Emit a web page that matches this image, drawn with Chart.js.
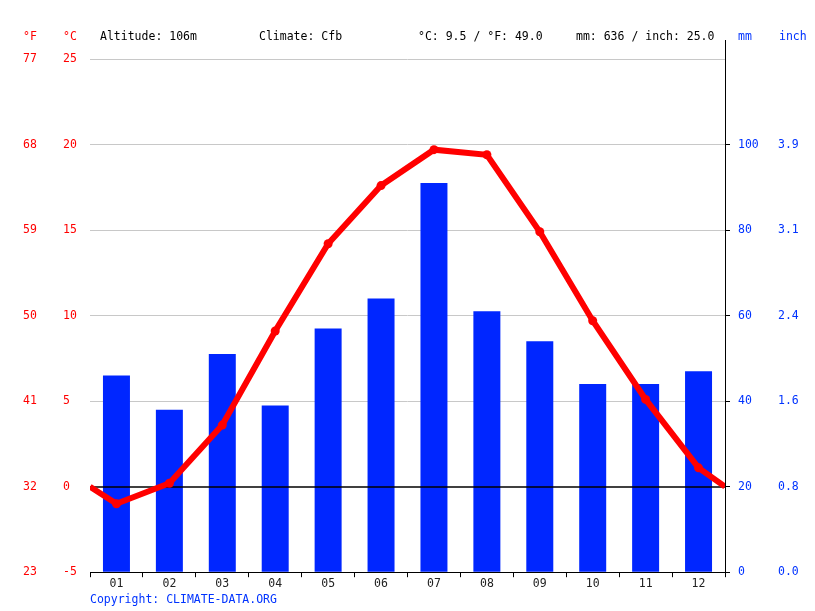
<!DOCTYPE html>
<html>
<head>
<meta charset="utf-8">
<script src="https://cdn.jsdelivr.net/npm/chart.js@4.4.1/dist/chart.umd.min.js"></script>
<style>
html,body{margin:0;padding:0;background:#fff;}
#c{display:block;}
</style>
</head>
<body>
<canvas id="c" width="815" height="611" style="width:815px;height:611px"></canvas>
<script>
// ---- data ----
const months = ['01','02','03','04','05','06','07','08','09','10','11','12'];
const precipMm = [46, 38, 51, 39, 57, 64, 91, 61, 54, 44, 44, 47];
const tempC = [-1.0, 0.2, 3.6, 9.1, 14.2, 17.6, 19.7, 19.4, 14.9, 9.7, 5.1, 1.1];
const tempEdgeC = [0.0, 0.0];           // line ends at left / right edge of the plot
const fLabels = ['23','32','41','50','59','68','77'];
const inchLabels = ['0.0','0.8','1.6','2.4','3.1','3.9'];
const headerTexts = ['Altitude: 106m', 'Climate: Cfb', '°C: 9.5 / °F: 49.0', 'mm: 636 / inch: 25.0'];
const copyrightText = 'Copyright: CLIMATE-DATA.ORG';

const FONT = 'DejaVu Sans Mono';
const FS = 11.5;
const RED = '#ff0000';
const BLUE = '#0033ff';
const BAR = '#0026ff';

const linePoints = [{x: -0.5, y: tempEdgeC[0]}]
  .concat(tempC.map((v, i) => ({x: i, y: v})))
  .concat([{x: months.length - 0.5, y: tempEdgeC[1]}]);

const extras = {
  id: 'extras',
  afterDatasetDraw(chart, args) {
    if (args.index !== 0) return;
    const ctx = chart.ctx, a = chart.chartArea;
    const y = Math.round(chart.scales.yC.getPixelForValue(0));
    ctx.save();
    ctx.strokeStyle = '#000';
    ctx.lineWidth = 1.5;
    ctx.beginPath();
    ctx.moveTo(a.left, y);
    ctx.lineTo(a.right, y);
    ctx.stroke();
    ctx.restore();
  },
  afterDraw(chart) {
    const ctx = chart.ctx, a = chart.chartArea, s = chart.scales;
    ctx.save();
    // right axis line extends above plot area
    const xr = Math.round(s.yMm.left) + 0.5;
    ctx.strokeStyle = '#000';
    ctx.lineWidth = 1;
    ctx.beginPath();
    ctx.moveTo(xr, a.top - 19);
    ctx.lineTo(xr, a.top);
    ctx.stroke();

    ctx.font = FS + 'px "' + FONT + '"';
    ctx.textBaseline = 'middle';
    ctx.textAlign = 'left';
    const ty = a.top - 22;
    ctx.fillStyle = RED;
    ctx.fillText('°F', s.yF.left, ty);
    ctx.fillText('°C', s.yC.left, ty);
    ctx.fillStyle = BLUE;
    ctx.fillText('mm', s.yMm.left + 13, ty);
    ctx.fillText('inch', s.yIn.left + 1, ty);
    ctx.fillStyle = '#000';
    const hx = [100, 259, 418, 576];
    headerTexts.forEach((t, i) => ctx.fillText(t, hx[i], ty));
    ctx.fillStyle = BLUE;
    ctx.fillText(copyrightText, a.left, a.bottom + 28);
    ctx.restore();
  }
};

new Chart(document.getElementById('c'), {
  data: {
    labels: months,
    datasets: [
      {
        type: 'bar',
        label: 'mm',
        data: precipMm,
        backgroundColor: BAR,
        borderWidth: 0,
        grouped: false,
        barPercentage: 0.51,
        categoryPercentage: 1.0,
        xAxisID: 'x',
        yAxisID: 'yMm',
        order: 1
      },
      {
        type: 'line',
        label: '°C',
        data: linePoints,
        borderColor: RED,
        backgroundColor: RED,
        borderWidth: 6,
        tension: 0,
        pointRadius: ctx => (ctx.dataIndex === 0 || ctx.dataIndex === linePoints.length - 1) ? 0 : 4.5,
        pointBackgroundColor: RED,
        pointBorderWidth: 0,
        xAxisID: 'xl',
        yAxisID: 'yC',
        order: 0
      }
    ]
  },
  options: {
    responsive: false,
    animation: false,
    events: [],
    layout: { padding: { left: 23, right: 0, top: 59, bottom: 20 } },
    plugins: { legend: { display: false }, tooltip: { enabled: false }, title: { display: false } },
    scales: {
      x: {
        type: 'category',
        position: 'bottom',
        offset: true,
        grid: { offset: true, drawOnChartArea: false, drawTicks: true, tickLength: 5, color: '#000' },
        border: { display: true, color: '#000', width: 1 },
        ticks: { color: '#222', font: { family: FONT, size: FS }, padding: 0, maxRotation: 0 }
      },
      xl: {
        type: 'linear',
        display: false,
        min: -0.5,
        max: months.length - 0.5
      },
      yF: {
        type: 'linear',
        position: 'left',
        weight: 2,
        min: -5, max: 25,
        afterBuildTicks: sc => { sc.ticks = [-5,0,5,10,15,20,25].map(v => ({value: v})); },
        ticks: { color: RED, crossAlign: 'far', font: { family: FONT, size: FS },
                 callback: (v, i) => fLabels[i] },
        grid: { display: false, drawTicks: false },
        border: { display: false },
        afterFit: sc => { sc.width = 40; }
      },
      yC: {
        type: 'linear',
        position: 'left',
        weight: 1,
        min: -5, max: 25,
        afterBuildTicks: sc => { sc.ticks = [-5,0,5,10,15,20,25].map(v => ({value: v})); },
        ticks: { color: RED, crossAlign: 'far', font: { family: FONT, size: FS },
                 callback: v => String(v) },
        grid: { drawTicks: false,
                color: c => (c.tick && (c.tick.value === 0 || c.tick.value === -5)) ? 'rgba(0,0,0,0)' : '#c8c8c8' },
        border: { display: false },
        afterFit: sc => { sc.width = 27; }
      },
      yMm: {
        type: 'linear',
        position: 'right',
        weight: 1,
        min: 0, max: 120,
        afterBuildTicks: sc => { sc.ticks = [0,20,40,60,80,100].map(v => ({value: v})); },
        ticks: { color: BLUE, padding: 8, font: { family: FONT, size: FS } },
        grid: { drawOnChartArea: false, drawTicks: true, tickLength: 5, color: '#000' },
        border: { display: true, color: '#000', width: 1 },
        afterFit: sc => { sc.width = 53; }
      },
      yIn: {
        type: 'linear',
        position: 'right',
        weight: 2,
        min: 0, max: 120,
        afterBuildTicks: sc => { sc.ticks = [0,20,40,60,80,100].map(v => ({value: v})); },
        ticks: { color: BLUE, padding: 0, font: { family: FONT, size: FS },
                 callback: (v, i) => inchLabels[i] },
        grid: { display: false, drawTicks: false },
        border: { display: false },
        afterFit: sc => { sc.width = 37; }
      }
    }
  },
  plugins: [extras]
});
</script>
</body>
</html>
